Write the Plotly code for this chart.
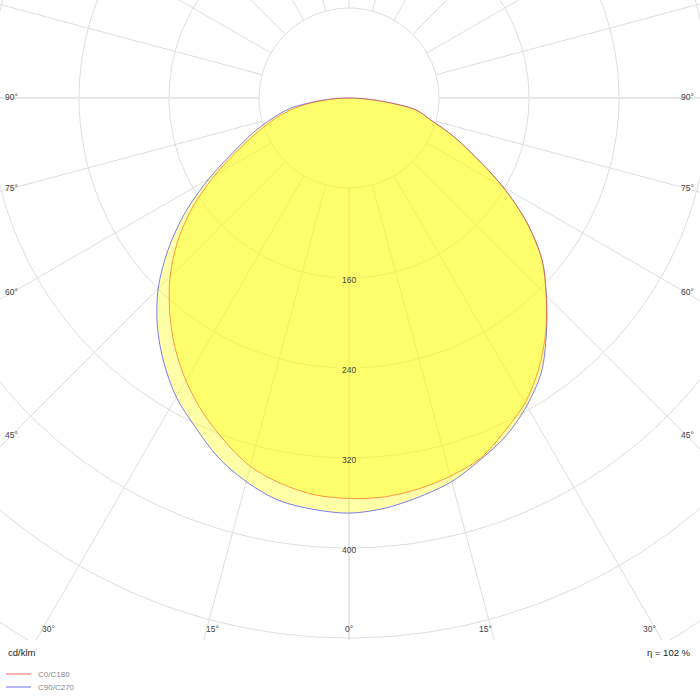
import numpy as np
import plotly.graph_objects as go

# polar intensity diagram, values in cd/klm
gamma = [0, 5, 10, 15, 20, 25, 30, 35, 40, 45, 50, 55, 60, 65, 70, 75, 80, 85, 90]
c0 = [356, 356, 353, 348, 341, 327, 313, 294, 272, 248, 224, 193, 158, 124, 98, 75, 60, 25, 0]
c180 = [356, 354, 348, 339, 324, 308, 290, 270, 248, 225, 199, 170, 138, 108, 85, 66, 47, 22, 0]
c90 = [369, 366, 360, 353, 342, 331, 316, 298, 273, 248, 224, 193, 158, 124, 98, 75, 60, 25, 0]
c270 = [369, 367, 363, 353, 340, 323, 307, 287, 265, 240, 210, 178, 144, 113, 91, 71, 53, 24, 0]

ring_values = [80, 160, 240, 320, 400, 480, 560]
ring_labels = [160, 240, 320, 400]
spoke_angles = list(range(0, 361, 15))
angle_labels = [0, 15, 30, 45, 60, 75, 90]
eta = 102

# pixel geometry: 1.125 px per cd/klm, pole at (349, 98), plot area 700 x 640
k = 1.125
x_rng = [-349 / k, 351 / k]
y_rng = [-542 / k, 98 / k]


def plane(right, left):
    g = np.radians(gamma)
    r_r = np.array(right)
    r_l = np.array(left)
    xs = np.concatenate([(r_r * np.sin(g))[::-1], -(r_l * np.sin(g))[1:]])
    ys = np.concatenate([(-r_r * np.cos(g))[::-1], (-r_l * np.cos(g))[1:]])
    return xs, ys


fig = go.Figure()

grid = '#dedede'
t = np.linspace(0, 2 * np.pi, 361)
for rv in ring_values:
    fig.add_trace(go.Scatter(x=rv * np.cos(t), y=rv * np.sin(t), mode='lines',
                             line=dict(color=grid, width=1), hoverinfo='skip'))
for a in spoke_angles:
    ar = np.radians(a)
    w = 2 if a in (90, 270) else 1
    c = '#e6e6e6' if a in (90, 270) else grid
    fig.add_trace(go.Scatter(x=[80 * np.sin(ar), 900 * np.sin(ar)],
                             y=[-80 * np.cos(ar), -900 * np.cos(ar)], mode='lines',
                             line=dict(color=c, width=w), hoverinfo='skip'))

bx, by = plane(c90, c270)
rx, ry = plane(c0, c180)
fig.add_trace(go.Scatter(x=bx, y=by, mode='lines', fill='toself',
                         fillcolor='rgba(255,255,0,0.34)',
                         line=dict(color='rgba(40,40,255,0.6)', width=1, shape='spline', smoothing=0.9),
                         name='C90/C270'))
fig.add_trace(go.Scatter(x=rx, y=ry, mode='lines', fill='toself',
                         fillcolor='rgba(255,255,0,0.34)',
                         line=dict(color='rgba(255,70,0,0.55)', width=1, shape='spline', smoothing=0.9),
                         name='C0/C180'))

lab_font = dict(family='Liberation Sans', size=8.5, color='#444')
ann = []
for v in ring_labels:
    ann.append(dict(x=0, y=-v - 2 / k, text=str(v), showarrow=False, font=lab_font))

side_x = 338 / k
bottom_y = 531 / k
for a in angle_labels:
    ar = np.radians(a)
    if a < 90 and bottom_y * np.tan(ar) < 345 / k:
        xs = bottom_y * np.tan(ar) - (6 / k if a else 0)
        for sx in ([1, -1] if a else [1]):
            ann.append(dict(x=sx * xs, y=-bottom_y, text='%d°' % a, showarrow=False, font=lab_font))
    else:
        yy = 0 if a == 90 else -side_x / np.tan(ar)
        for sx in [1, -1]:
            ann.append(dict(x=sx * side_x, y=yy + 1 / k, text='%d°' % a, showarrow=False, font=lab_font))

txt_font = dict(family='Liberation Sans', size=9.5, color='#222')
ann.append(dict(xref='paper', yref='paper', x=6 / 700, y=1 - 652 / 700, text='cd/klm',
                showarrow=False, xanchor='left', yanchor='middle', font=txt_font))
ann.append(dict(xref='paper', yref='paper', x=693 / 700, y=1 - 652 / 700, text='η = %d %%' % eta,
                showarrow=False, xanchor='right', yanchor='middle', font=txt_font))

leg_font = dict(family='Liberation Sans', size=8, color='#888')
shapes = []
for i, (name, col) in enumerate([('C0/C180', '#f9b2b2'), ('C90/C270', '#b6b6f9')]):
    yp = 1 - (674 + 13 * i) / 700
    shapes.append(dict(type='line', xref='paper', yref='paper', x0=6 / 700, x1=31 / 700,
                       y0=yp, y1=yp, line=dict(color=col, width=2)))
    ann.append(dict(xref='paper', yref='paper', x=36 / 700, y=yp, text=name, showarrow=False,
                    xanchor='left', yanchor='middle', font=leg_font))

fig.update_layout(
    width=700, height=700,
    margin=dict(l=0, r=0, t=0, b=0),
    paper_bgcolor='white', plot_bgcolor='white',
    showlegend=False,
    xaxis=dict(range=x_rng, visible=False, fixedrange=True),
    yaxis=dict(range=y_rng, visible=False, fixedrange=True, domain=[60 / 700, 1]),
    annotations=ann, shapes=shapes,
)

# page has a default 8px body margin; drop it so the 700x700 figure fills the window
fig.write_html("out.html", config={'displayModeBar': False},
               post_script="document.body.style.margin='0';document.body.style.overflow='hidden';")
